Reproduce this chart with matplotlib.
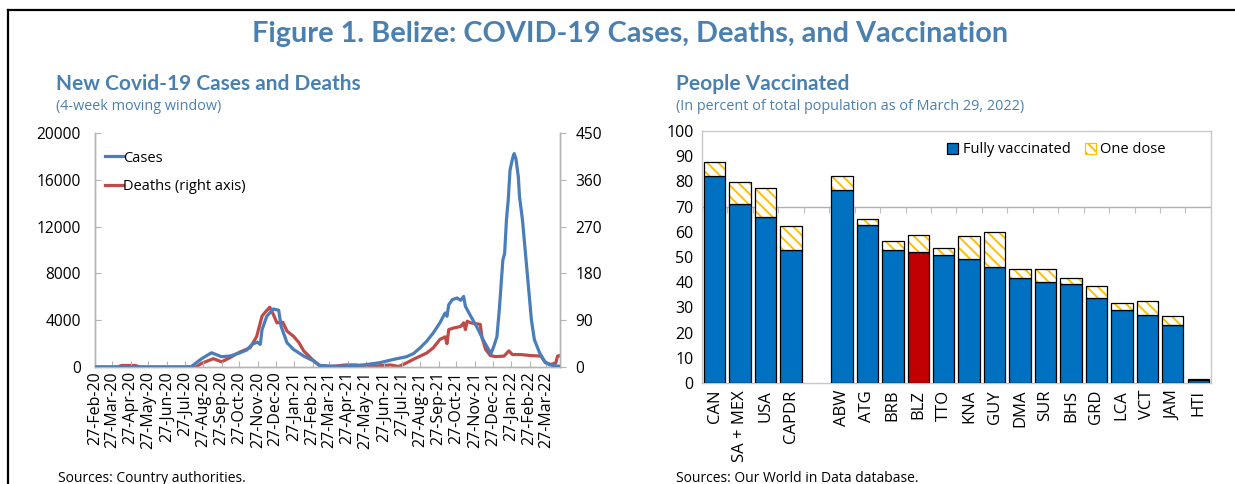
import numpy as np
import pandas as pd
import matplotlib
matplotlib.use("Agg")
import matplotlib.pyplot as plt
import matplotlib.dates as mdates
from matplotlib.patches import Patch
from matplotlib.lines import Line2D

# ---- left panel: new cases / deaths (4-week moving window) ----
case_dates = ["2020-02-27", "2020-07-27", "2020-08-07", "2020-08-24", "2020-09-10", "2020-09-27",
              "2020-10-11", "2020-10-28", "2020-11-08", "2020-11-17", "2020-11-26", "2020-12-01",
              "2020-12-04", "2020-12-12", "2020-12-23", "2021-01-01", "2021-01-05", "2021-01-15",
              "2021-01-26", "2021-02-12", "2021-03-01", "2021-03-11", "2021-03-27", "2021-04-15",
              "2021-04-27", "2021-05-15", "2021-05-27", "2021-06-10", "2021-06-20", "2021-07-13",
              "2021-08-04", "2021-08-16", "2021-08-27", "2021-09-07", "2021-09-18", "2021-09-29",
              "2021-10-08", "2021-10-11", "2021-10-14", "2021-10-20", "2021-10-28", "2021-11-03",
              "2021-11-08", "2021-11-11", "2021-11-20", "2021-12-01", "2021-12-12", "2021-12-20",
              "2021-12-24", "2021-12-29", "2022-01-03", "2022-01-07", "2022-01-13", "2022-01-16",
              "2022-01-19", "2022-01-22", "2022-01-25", "2022-01-28", "2022-01-30", "2022-02-01",
              "2022-02-04", "2022-02-08", "2022-02-10", "2022-02-15", "2022-02-19", "2022-02-23",
              "2022-02-26", "2022-03-02", "2022-03-07", "2022-03-16", "2022-03-24", "2022-04-01",
              "2022-04-10", "2022-04-19"]
cases = [0, 0, 30, 700, 1220, 880,
         940, 1220, 1450, 1930, 2130, 1930,
         3200, 4340, 4960, 4850, 3490, 2070,
         1500, 940, 510, 140, 80, 60,
         100, 150, 200, 300, 370, 650,
         880, 1160, 1650, 2210, 2920, 3770,
         4620, 4340, 5320, 5760, 5900, 5700,
         6030, 5190, 4340, 3350, 2210, 1500,
         1150, 1800, 2600, 4890, 9150, 9720,
         12560, 14260, 16820, 17530, 17950, 18240,
         17810, 16250, 14550, 12560, 10280, 8010,
         6310, 4030, 2330, 1190, 480, 200,
         110, 60]

death_dates = ["2020-02-27", "2020-04-05", "2020-04-12", "2020-05-05", "2020-05-12", "2020-08-15",
               "2020-08-24", "2020-09-13", "2020-09-27", "2020-10-11", "2020-10-28", "2020-11-14",
               "2020-11-25", "2020-12-04", "2020-12-09", "2020-12-17", "2020-12-23", "2020-12-29",
               "2021-01-08", "2021-01-15", "2021-01-26", "2021-02-04", "2021-02-12", "2021-02-26",
               "2021-03-10", "2021-03-31", "2021-04-24", "2021-05-11", "2021-05-23", "2021-06-15",
               "2021-07-08", "2021-07-22", "2021-08-04", "2021-08-16", "2021-08-27", "2021-09-07",
               "2021-09-18", "2021-09-29", "2021-10-08", "2021-10-11", "2021-10-14", "2021-10-22",
               "2021-11-03", "2021-11-08", "2021-11-11", "2021-11-14", "2021-11-20", "2021-11-25",
               "2021-12-06", "2021-12-09", "2021-12-15", "2021-12-23", "2022-01-01", "2022-01-15",
               "2022-01-23", "2022-01-29", "2022-02-12", "2022-03-01", "2022-03-18", "2022-03-26",
               "2022-04-04", "2022-04-12", "2022-04-15", "2022-04-19"]
deaths = [0, 0, 3, 3, 0, 0,
          7, 16, 10, 18, 29, 37,
          59, 98, 105, 115, 101, 85,
          86, 69, 59, 47, 31, 15,
          3, 1, 4, 4, 0, 2,
          4, 1, 8, 15, 21, 27,
          37, 53, 58, 45, 72, 75,
          78, 85, 72, 88, 85, 84,
          82, 56, 34, 22, 20, 21,
          31, 24, 24, 22, 21, 8,
          5, 8, 21, 22]

# ---- right panel: people vaccinated (% of population, March 29, 2022) ----
regions = ["CAN", "SA + MEX", "USA", "CAPDR"]
region_full = [82.1, 70.9, 65.8, 52.6]
region_one = [5.4, 8.9, 11.4, 9.5]

countries = ["ABW", "ATG", "BRB", "BLZ", "TTO", "KNA", "GUY", "DMA", "SUR", "BHS",
             "GRD", "LCA", "VCT", "JAM", "HTI"]
country_full = [76.4, 62.5, 52.6, 52.0, 50.8, 49.1, 46.0, 41.7, 40.1, 39.4,
                33.6, 29.0, 27.0, 23.0, 1.2]
country_one = [5.9, 2.4, 3.6, 6.6, 2.6, 9.2, 14.0, 3.4, 5.1, 2.3,
               4.9, 2.9, 5.6, 3.5, 0.4]

TITLE_BLUE = "#4A80B0"
GRAY = "#B4B4B4"
plt.rcParams["font.family"] = ["Open Sans", "DejaVu Sans"]
plt.rcParams["hatch.linewidth"] = 1.4

fig = plt.figure(figsize=(12.35, 4.84), dpi=100)

# frame (top and left border)
fig.add_artist(Line2D([0.0065, 1.0], [0.979, 0.979], color="black", lw=1.6))
fig.add_artist(Line2D([0.0065, 0.0065], [0.0, 0.979], color="black", lw=1.6))

fig.text(0.51, 0.930, "Figure 1. Belize: COVID-19 Cases, Deaths, and Vaccination",
         ha="center", va="center", fontsize=20.8, fontweight="bold", color=TITLE_BLUE,
         family=["Lato", "DejaVu Sans"])

fig.text(0.045, 0.826, "New Covid-19 Cases and Deaths", ha="left", va="center",
         fontsize=15, fontweight="bold", color=TITLE_BLUE, family=["Lato", "DejaVu Sans"])
fig.text(0.045, 0.780, "(4-week moving window)", ha="left", va="center",
         fontsize=10.4, color=TITLE_BLUE)
fig.text(0.547, 0.826, "People Vaccinated", ha="left", va="center",
         fontsize=15, fontweight="bold", color=TITLE_BLUE, family=["Lato", "DejaVu Sans"])
fig.text(0.547, 0.780, "(In percent of total population as of March 29, 2022)", ha="left",
         va="center", fontsize=10.4, color=TITLE_BLUE)

fig.text(0.047, 0.012, "Sources: Country authorities.", ha="left", va="center", fontsize=10)
fig.text(0.547, 0.012, "Sources: Our World in Data database.", ha="left", va="center", fontsize=10)

# ---------------- left chart ----------------
ax = fig.add_axes([0.0769, 0.2417, 0.3765, 0.4835])
ax2 = ax.twinx()

cd = pd.to_datetime(case_dates)
dd = pd.to_datetime(death_dates)
l1, = ax.plot(cd, cases, color="#4A7EBB", lw=2.3, label="Cases", zorder=3)
l2, = ax2.plot(dd, deaths, color="#BE4B48", lw=2.3, label="Deaths (right axis)", zorder=2)
ax.set_zorder(ax2.get_zorder() + 1)
ax.patch.set_visible(False)

ax.set_xlim(pd.Timestamp("2020-02-27"), pd.Timestamp("2022-04-19"))
ax.set_ylim(0, 20000)
ax2.set_ylim(0, 450)
ax.set_yticks(np.arange(0, 20001, 4000))
ax2.set_yticks(np.arange(0, 451, 90))

ax.xaxis.set_major_locator(mdates.MonthLocator(bymonthday=27))
ax.xaxis.set_major_formatter(mdates.DateFormatter("%d-%b-%y"))
ax.tick_params(axis="x", direction="in", length=4, color=GRAY, labelrotation=90,
               labelsize=11.5, pad=3)
ax.tick_params(axis="y", direction="in", length=4, color=GRAY, labelsize=11.2, pad=10)
ax2.tick_params(axis="y", direction="out", length=4, color=GRAY, labelsize=11.2, pad=7)

for a in (ax, ax2):
    a.spines["top"].set_visible(False)
    for s in ("left", "right", "bottom"):
        a.spines[s].set_color(GRAY)
        a.spines[s].set_linewidth(1.0)

ax.legend(handles=[l1, l2], loc="upper left", bbox_to_anchor=(0.022, 0.925), frameon=False,
          fontsize=10.5, handlelength=1.2, handletextpad=0.05, labelspacing=0.95,
          borderpad=0, borderaxespad=0)

# ---------------- right chart ----------------
bx = fig.add_axes([0.5684, 0.2087, 0.4121, 0.5207])

pos_regions = np.arange(len(regions))
pos_countries = np.arange(len(countries)) + len(regions) + 1
pos = np.concatenate([pos_regions, pos_countries])
labels = regions + countries
full = np.array(region_full + country_full)
one = np.array(region_one + country_one)

colors = ["#C00000" if c == "BLZ" else "#0070C0" for c in labels]
w = 0.84
bx.bar(pos, full, width=w, color=colors, edgecolor="black", linewidth=0.9, zorder=3)
bx.bar(pos, one, bottom=full, width=w, color="white", edgecolor="#FFC000", hatch="\\\\\\",
       linewidth=0, zorder=3)
bx.bar(pos, one, bottom=full, width=w, color="none", edgecolor="black", linewidth=0.9, zorder=4)

bx.set_xlim(-0.5, pos[-1] + 0.5)
bx.set_ylim(0, 100)
bx.set_yticks(np.arange(0, 101, 10))
bx.set_xticks(pos)
bx.set_xticklabels(labels, rotation=90)
bx.tick_params(axis="x", length=0, labelsize=12, pad=5)
bx.tick_params(axis="y", length=0, labelsize=11.5, pad=6)
for s in bx.spines.values():
    s.set_color("#C8C8C8")
    s.set_linewidth(1.0)

# category axis crossing at 70 (drawn behind the bars)
bx.axhline(70, color="#B0B0B0", lw=1.0, zorder=1)
sec = bx.secondary_xaxis(0.7)
sec.set_xticks(np.arange(-0.5, pos[-1] + 1, 1.0))
sec.tick_params(axis="x", direction="in", length=4, color="#C0C0C0",
                labelbottom=False, labeltop=False)
for s in sec.spines.values():
    s.set_visible(False)
sec.set_zorder(1)
bx.set_zorder(2)
bx.patch.set_visible(False)

handles = [Patch(facecolor="#0070C0", edgecolor="black", linewidth=0.9, label="Fully vaccinated"),
           Patch(facecolor="white", edgecolor="#FFC000", hatch="\\\\\\", linewidth=0.9,
                 label="One dose")]
leg = bx.legend(handles=handles, loc="upper left", bbox_to_anchor=(0.482, 0.955), ncol=2,
                frameon=False, fontsize=10.5, handlelength=0.75, handleheight=0.75,
                handletextpad=0.3, columnspacing=1.0, borderpad=0, borderaxespad=0)

fig.savefig("out.png", dpi=100)
